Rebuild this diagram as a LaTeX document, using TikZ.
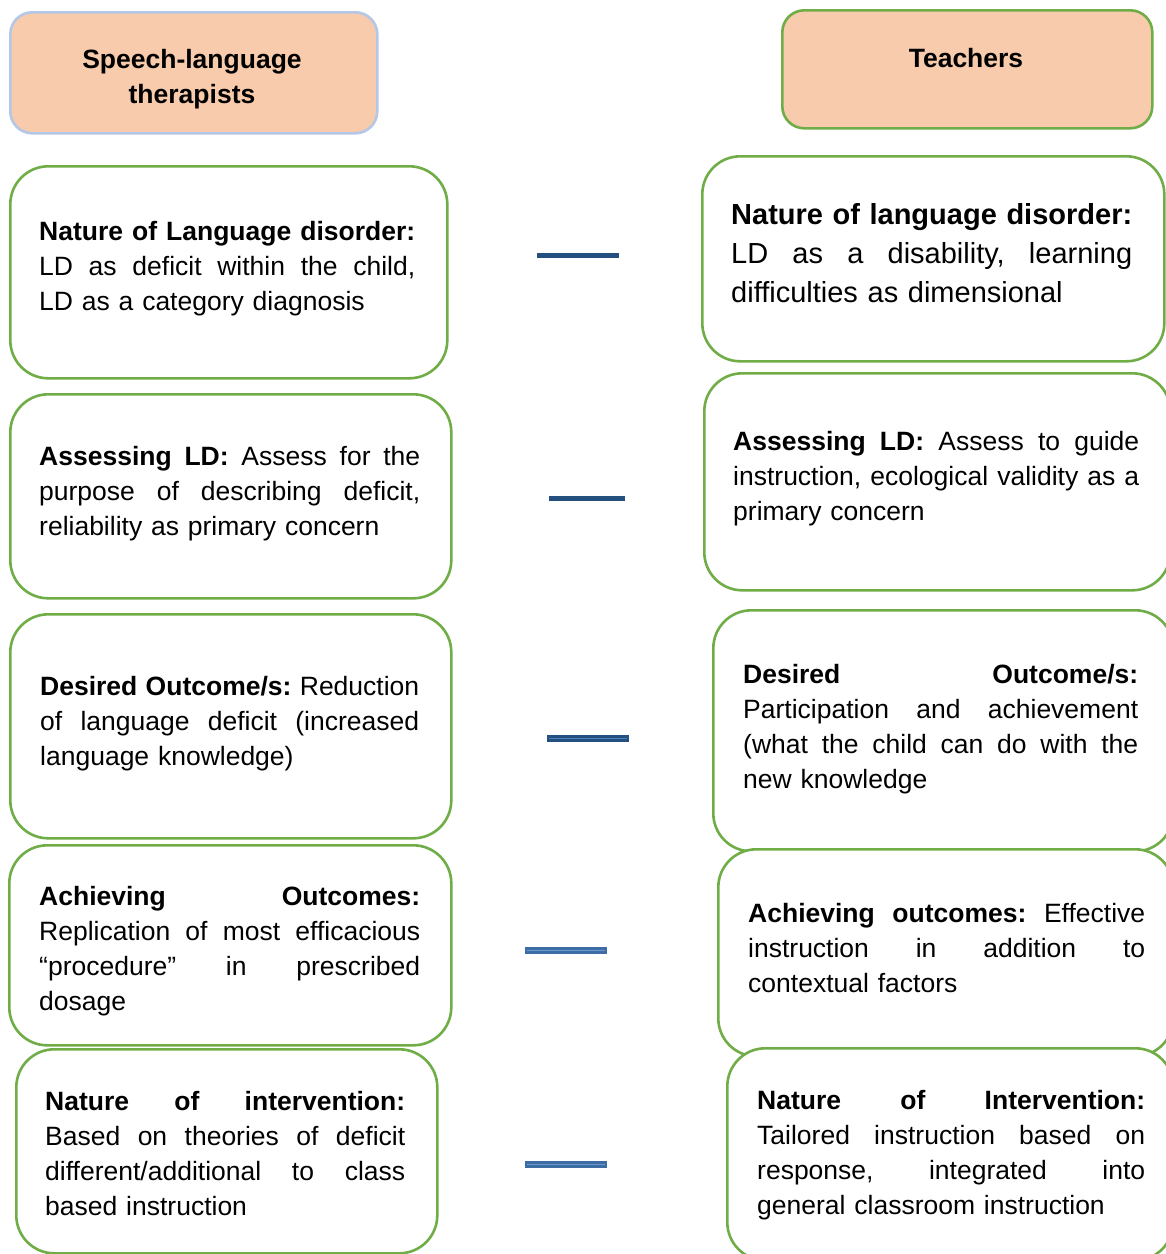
\documentclass[tikz,border=0pt]{standalone}
\usepackage{fontspec}
\setmainfont{Liberation Sans}
\frenchspacing
\definecolor{boxgreen}{HTML}{70AD47}
\definecolor{headfill}{HTML}{F7CBAC}
\definecolor{headblue}{HTML}{B4C7E7}
\definecolor{linkdark}{HTML}{24507F}
\definecolor{linkmid}{HTML}{3D6DA4}
\definecolor{linkin}{HTML}{4F81BD}
\definecolor{linkinlight}{HTML}{6A99D0}
% one fully justified line of text: every interword space stretches equally
\newcommand\jl[1]{\leavevmode\hbox to \hsize{\spaceskip=0.278em plus 1fil\relax #1}}
\tikzset{
  card/.style={draw=boxgreen, line width=2.6pt, fill=white, rounded corners=38pt,
    anchor=north west, inner sep=0pt},
  head/.style={fill=headfill, line width=2.6pt, rounded corners=22pt,
    anchor=north west, inner sep=0pt},
  txt/.style={anchor=base west, inner sep=0pt, align=left,
    font=\fontsize{26.5}{35}\selectfont},
  bigtxt/.style={txt, font=\fontsize{29}{39}\selectfont},
  headtxt/.style={anchor=base, inner sep=0pt, align=center,
    font=\fontsize{26.5}{35}\selectfont\bfseries},
  link/.style={draw=linkdark, line width=4.6pt},
  dlinkout/.style={line width=6.7pt},
  dlinkin/.style={line width=1.8pt},
}
\begin{document}
\begin{tikzpicture}[x=1pt, y=-1pt]
\clip (0,0) rectangle (1166,1254);
\fill[white] (0,0) rectangle (1166,1254);

% column headers
\node[head, draw=headblue, minimum width=367pt, minimum height=121pt] (hl) at (9,11) {};
\node[head, draw=boxgreen, minimum width=370pt, minimum height=118pt] (hr) at (781,9) {};
\node[headtxt] (hlt) at (192,103) {Speech-language\\therapists};
\node[headtxt] (hrt) at (966,67) {Teachers};

% left column: speech-language therapists
\node[card, minimum width=437pt, minimum height=212pt] (l1) at (9,165) {};
\node[card, minimum width=441pt, minimum height=204pt] (l2) at (9,393) {};
\node[card, minimum width=441pt, minimum height=224pt] (l3) at (9,613) {};
\node[card, minimum width=442pt, minimum height=200pt] (l4) at (8,844) {};
\node[card, minimum width=421pt, minimum height=204pt] (l5) at (15,1048) {};

\node[txt, text width=376pt] (l1t) at (39,240) {%
  \jl{\textbf{Nature of Language disorder:}}\\
  \jl{LD as deficit within the child,}\\
  LD as a category diagnosis};
\node[txt, text width=381pt] (l2t) at (39,465) {%
  \jl{\textbf{Assessing LD:} Assess for the}\\
  \jl{purpose of describing deficit,}\\
  reliability as primary concern};
\node[txt, text width=379pt] (l3t) at (40,695) {%
  \jl{\textbf{Desired Outcome/s:} Reduction}\\
  \jl{of language deficit (increased}\\
  language knowledge)};
\node[txt, text width=381pt] (l4t) at (39,905) {%
  \jl{\textbf{Achieving Outcomes:}}\\
  \jl{Replication of most efficacious}\\
  \jl{“procedure” in prescribed}\\
  dosage};
\node[txt, text width=360pt] (l5t) at (45,1110) {%
  \jl{\textbf{Nature of intervention:}}\\
  \jl{Based on theories of deficit}\\
  \jl{different/additional to class}\\
  based instruction};

% right column: teachers
\node[card, minimum width=462pt, minimum height=205pt] (r1) at (701,155) {};
\node[card, minimum width=466pt, minimum height=217pt] (r2) at (703,372) {};
\node[card, minimum width=460pt, minimum height=241pt] (r3) at (712,609) {};
\node[card, minimum width=455pt, minimum height=207pt] (r4) at (717,848) {};
\node[card, minimum width=446pt, minimum height=212pt] (r5) at (726,1047) {};

\node[bigtxt, text width=401pt] (r1t) at (731,224) {%
  \jl{\textbf{Nature of language disorder:}}\\
  \jl{LD as a disability, learning}\\
  difficulties as dimensional};
\node[txt, text width=406pt] (r2t) at (733,450) {%
  \jl{\textbf{Assessing LD:} Assess to guide}\\
  \jl{instruction, ecological validity as a}\\
  primary concern};
\node[txt, text width=395pt] (r3t) at (743,683) {%
  \jl{\textbf{Desired Outcome/s:}}\\
  \jl{Participation and achievement}\\
  \jl{(what the child can do with the}\\
  new knowledge};
\node[txt, text width=397pt] (r4t) at (748,922) {%
  \jl{\textbf{Achieving outcomes:} Effective}\\
  \jl{instruction in addition to}\\
  contextual factors};
\node[txt, text width=388pt] (r5t) at (757,1109) {%
  \jl{\textbf{Nature of Intervention:}}\\
  \jl{Tailored instruction based on}\\
  \jl{response, integrated into}\\
  general classroom instruction};

% short dashes between the paired statements
\coordinate (c1a) at (537,255.5); \coordinate (c1b) at (619,255.5);
\coordinate (c2a) at (549,498.5); \coordinate (c2b) at (625,498.5);
\coordinate (c3a) at (547,738.5); \coordinate (c3b) at (629,738.5);
\coordinate (c4a) at (525,950.5); \coordinate (c4b) at (607,950.5);
\coordinate (c5a) at (525,1164.5); \coordinate (c5b) at (607,1164.5);
\draw[link] (c1a) -- (c1b);
\draw[link] (c2a) -- (c2b);
\draw[dlinkout, draw=linkdark] (c3a) -- (c3b);
\draw[dlinkin, draw=linkin] ([xshift=2pt]c3a) -- ([xshift=-2pt]c3b);
\draw[dlinkout, draw=linkmid] (c4a) -- (c4b);
\draw[dlinkin, draw=linkinlight] ([xshift=2pt]c4a) -- ([xshift=-2pt]c4b);
\draw[dlinkout, draw=linkmid] (c5a) -- (c5b);
\draw[dlinkin, draw=linkinlight] ([xshift=2pt]c5a) -- ([xshift=-2pt]c5b);
\end{tikzpicture}
\end{document}
